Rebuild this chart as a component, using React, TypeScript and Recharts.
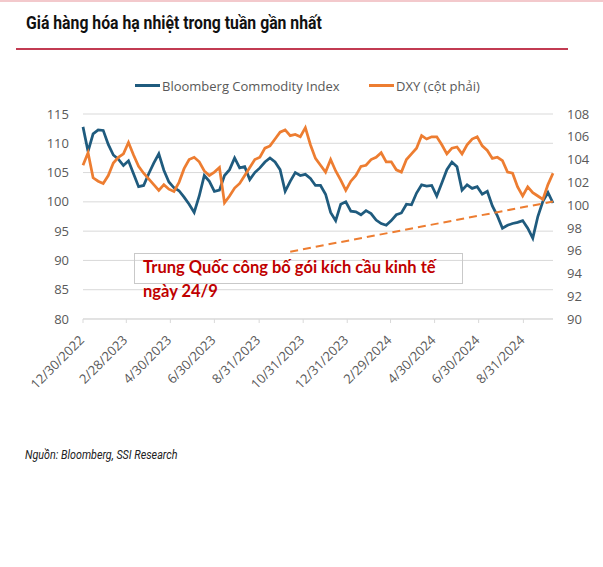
import { LineChart, Line, XAxis, YAxis, CartesianGrid, ReferenceLine } from "recharts";

// weekly readings, first point = 12/30/2022
const bcom = [
  112.8, 108.6, 111.6, 112.3, 112.2, 109.8, 108.0, 107.3, 106.2, 107.0, 104.8, 102.6,
  102.8, 104.8, 106.6, 108.2, 105.4, 103.4, 102.4, 101.9, 100.8, 99.6, 98.2, 101.0,
  104.5, 103.5, 101.8, 102.0, 104.5, 105.5, 107.5, 105.8, 106.0, 103.8, 105.0, 105.8,
  106.8, 107.5, 106.8, 105.5, 101.8, 103.5, 105.0, 104.5, 104.7, 104.0, 102.8,
  102.8, 101.3, 98.2, 96.8, 99.6, 100.0, 98.4, 98.3, 97.8, 98.5, 98.0, 96.9, 96.3,
  96.0, 96.8, 97.8, 98.1, 99.6, 99.5, 101.5, 102.9, 102.7,
  102.8, 101.0, 103.2, 105.5, 106.8, 106.0, 102.0, 102.9, 102.3, 102.6, 101.3, 101.8,
  99.3, 97.6, 95.5, 96.0, 96.3, 96.5, 96.8, 95.5, 93.8, 97.5, 100.1, 101.6, 99.8,
];

const dxy = [
  103.5, 104.6, 102.4, 102.1, 101.9, 102.6, 103.7, 104.2, 104.5, 105.5, 104.4, 103.4,
  102.8, 102.3, 101.8, 101.3, 101.8, 101.4, 101.2, 102.0, 103.2, 104.0, 104.2, 103.8,
  103.0, 102.6, 102.9, 103.3, 100.2, 100.8, 101.5, 101.9, 102.6, 103.3, 104.0, 104.2,
  105.0, 105.2, 105.8, 106.4, 106.6, 106.1, 106.2, 106.0, 106.8, 105.3, 104.1,
  103.5, 102.9, 104.0, 103.0, 102.2, 101.3, 102.1, 102.6, 103.4, 103.5, 104.0, 104.2,
  104.6, 103.8, 103.8, 103.1, 102.9, 104.0, 104.5, 105.0, 106.1, 105.8,
  106.0, 106.0, 105.3, 104.5, 105.0, 105.1, 104.5, 105.3, 105.8, 106.0, 105.2, 104.8,
  104.1, 104.2, 103.9, 102.9, 102.8, 101.6, 100.8, 101.6, 101.1, 100.8, 100.5, 101.8, 102.8,
];

const tickDates = [
  "12/30/2022", "2/28/2023", "4/30/2023", "6/30/2023", "8/31/2023", "10/31/2023",
  "12/31/2023", "2/29/2024", "4/30/2024", "6/30/2024", "8/31/2024",
];
const leftTicks = [80, 85, 90, 95, 100, 105, 110, 115];
const rightTicks = [90, 92, 94, 96, 98, 100, 102, 104, 106, 108];

// dashed trend line drawn on the left axis (day, value)
const trendLine = [
  { x: 287, y: 91.5 },
  { x: 651, y: 100.05 },
];

const noteLines = ["Trung Quốc công bố gói kích cầu kinh tế", "ngày 24/9"];

const BLUE = "#1f5b7e";
const ORANGE = "#ED7D31";
const GREY = "#595959";
const FONT = "'Open Sans', sans-serif";
const NARROW = "Roboto, 'Liberation Sans', sans-serif";

const toTime = (s: string) => {
  const [m, d, y] = s.split("/").map(Number);
  return Date.UTC(y, m - 1, d);
};
const t0 = toTime(tickDates[0]);
const tickDays = tickDates.map((s) => Math.round((toTime(s) - t0) / 86400000));
const data = bcom.map((v, i) => ({ day: i * 7, bcom: v, dxy: dxy[i] }));
const lastDay = (bcom.length - 1) * 7;

function DateTick({ x, y, payload }: any) {
  const label = tickDates[tickDays.indexOf(payload.value)];
  const tx = x + 2;
  const ty = y + 16;
  return (
    <text
      x={tx}
      y={ty}
      textAnchor="end"
      transform={`rotate(-45 ${tx} ${ty})`}
      fill={GREY}
      fontSize={13}
      fontFamily={FONT}
    >
      {label}
    </text>
  );
}

export default function App() {
  return (
    <div style={{ position: "absolute", left: 0, top: 0, width: 603, height: 567, background: "#fff" }}>
      <div style={{ position: "absolute", left: 0, top: 0, width: 603, height: 2, background: "#f3c9cc" }} />
      <div
        style={{
          position: "absolute",
          left: 26,
          top: 11,
          fontFamily: NARROW,
          fontWeight: 700,
          fontSize: 19,
          color: "#111",
          whiteSpace: "nowrap",
          transform: "scaleX(0.83)",
          transformOrigin: "left top",
        }}
      >
        Giá hàng hóa hạ nhiệt trong tuần gần nhất
      </div>
      <div style={{ position: "absolute", left: 16, top: 48, width: 552, height: 2, background: "#c23b52" }} />

      {/* legend */}
      <div style={{ position: "absolute", left: 135, top: 75, fontFamily: FONT, fontSize: 13, color: GREY, whiteSpace: "nowrap" }}>
        <span style={{ display: "inline-block", width: 25, height: 3, background: BLUE, verticalAlign: "middle", marginRight: 2 }} />
        <span style={{ verticalAlign: "middle" }}>Bloomberg Commodity Index</span>
      </div>
      <div style={{ position: "absolute", left: 369, top: 75, fontFamily: FONT, fontSize: 13, color: GREY, whiteSpace: "nowrap" }}>
        <span style={{ display: "inline-block", width: 25, height: 3, background: ORANGE, verticalAlign: "middle", marginRight: 2 }} />
        <span style={{ verticalAlign: "middle" }}>DXY (cột phải)</span>
      </div>

      <div style={{ position: "absolute", left: 0, top: 0 }}>
        <LineChart width={603} height={420} data={data} margin={{ top: 114, right: 0, bottom: 41, left: 0 }}>
          <CartesianGrid vertical={false} stroke="#d9d9d9" />
          <XAxis
            dataKey="day"
            type="number"
            domain={[0, lastDay]}
            ticks={tickDays}
            interval={0}
            height={60}
            stroke="#d9d9d9"
            tickSize={4}
            tickMargin={2}
            tick={<DateTick />}
          />
          <YAxis
            domain={[80, 115]}
            ticks={leftTicks}
            width={83}
            axisLine={false}
            tickLine={false}
            tickMargin={8}
            tick={{ fill: GREY, fontSize: 13, fontFamily: FONT }}
          />
          <YAxis
            yAxisId="right"
            orientation="right"
            domain={[90, 108]}
            ticks={rightTicks}
            width={50}
            axisLine={false}
            tickLine={false}
            tickMargin={8}
            tick={{ fill: GREY, fontSize: 13, fontFamily: FONT, textAnchor: "start" }}
          />
          <Line dataKey="bcom" stroke={BLUE} strokeWidth={2.75} dot={false} isAnimationActive={false} />
          <Line yAxisId="right" dataKey="dxy" stroke={ORANGE} strokeWidth={2.75} dot={false} isAnimationActive={false} />
          <ReferenceLine segment={trendLine} stroke={ORANGE} strokeWidth={2} strokeDasharray="8 5" />
        </LineChart>
      </div>

      {/* annotation */}
      <div style={{ position: "absolute", left: 134, top: 253, width: 327, height: 29, border: "1px solid #c9c9c9" }} />
      <div
        style={{
          position: "absolute",
          left: 143,
          top: 255,
          fontFamily: "Lato, sans-serif",
          fontWeight: 700,
          fontSize: 16.5,
          lineHeight: "24px",
          color: "#C00000",
          whiteSpace: "nowrap",
        }}
      >
        {noteLines.map((l) => (
          <div key={l}>{l}</div>
        ))}
      </div>

      <div
        style={{
          position: "absolute",
          left: 25,
          top: 447,
          fontFamily: NARROW,
          fontStyle: "italic",
          fontSize: 12.5,
          color: "#222",
          whiteSpace: "nowrap",
          transform: "scaleX(0.86)",
          transformOrigin: "left top",
        }}
      >
        Nguồn: Bloomberg, SSI Research
      </div>
    </div>
  );
}
